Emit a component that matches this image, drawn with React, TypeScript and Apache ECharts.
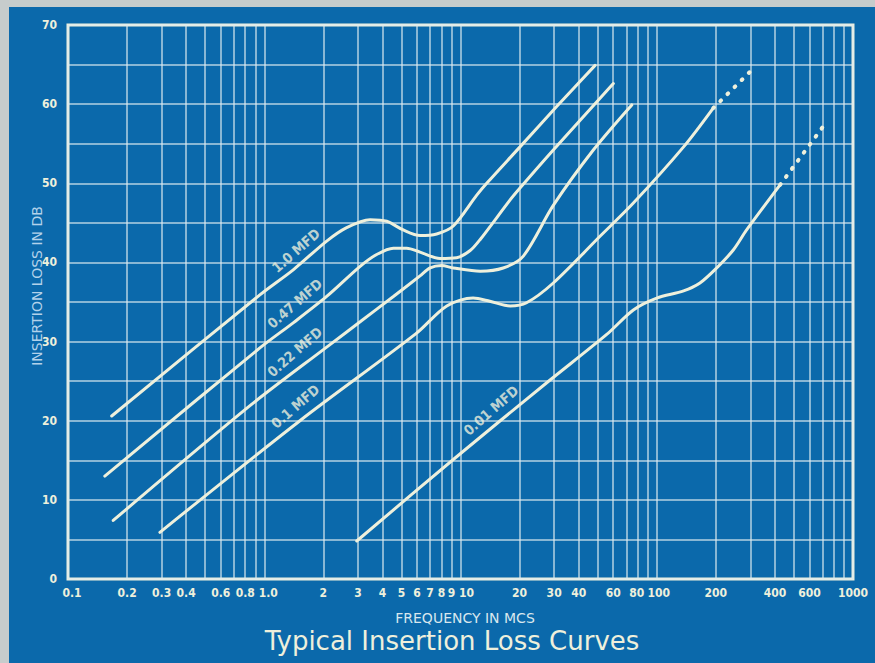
import React, { useEffect, useRef } from "react";
import * as echarts from "echarts";

// ---- data (frequency in MCS, insertion loss in dB) ----
const curve1_0: [number, number][] = [
  [0.167, 20.6], [0.95, 35.9], [1.41, 39.1], [2.08, 42.7], [2.63, 44.4], [3.46, 45.4],
  [4.21, 45.2], [5.11, 44.1], [6.22, 43.4], [7.56, 43.6], [9.19, 44.6], [12.1, 48.5],
  [13.6, 50.0], [20.1, 54.6], [30.9, 59.7], [48.5, 64.9],
];
const curve0_47: [number, number][] = [
  [0.154, 13.0], [0.95, 29.2], [1.41, 32.4], [2.08, 35.7], [3.08, 39.5], [3.74, 41.0],
  [4.55, 41.8], [5.32, 41.8], [6.22, 41.3], [7.86, 40.5], [9.56, 40.6], [11.2, 41.5],
  [12.6, 42.9], [17.9, 47.9], [20.1, 49.4], [29.7, 54.2], [60.1, 62.6],
];
const curve0_22: [number, number][] = [
  [0.17, 7.4], [0.846, 21.9], [2.08, 29.3], [3.08, 32.5], [4.55, 35.7], [6.22, 38.3],
  [7.0, 39.3], [8.0, 39.6], [9.19, 39.3], [12.6, 38.9], [16.5, 39.3], [20.9, 40.8],
  [29.7, 47.2], [47.5, 54.2], [74.6, 59.9],
];
const curve0_1: [number, number][] = [
  [0.294, 5.9], [1.52, 20.0], [5.93, 31.0], [8.51, 34.5], [11.6, 35.5], [14.1, 35.1],
  [17.9, 34.5], [21.7, 34.9], [29.7, 37.4], [51.4, 43.3], [76.0, 47.5], [137, 54.6],
  [194, 59.5],
];
const curve0_1Dotted: [number, number][] = [[194, 59.5], [299, 64.1]];
const curve0_01: [number, number][] = [
  [2.96, 4.8], [9.19, 15.1], [27.5, 24.8], [55.6, 30.9], [76.0, 34.0], [100, 35.5],
  [137, 36.4], [166, 37.4], [202, 39.3], [246, 41.6], [287, 44.1], [425, 49.8],
];
const curve0_01Dotted: [number, number][] = [[425, 49.8], [735, 57.8]];

const curveLabels: [number, number, string][] = [
  [1.45, 41.5, "1.0 MFD"],
  [1.43, 34.8, "0.47 MFD"],
  [1.43, 28.7, "0.22 MFD"],
  [1.44, 21.8, "0.1 MFD"],
  [14.3, 21.3, "0.01 MFD"],
];

const xLabelValues = [0.1, 0.2, 0.3, 0.4, 0.6, 0.8, 1, 2, 3, 4, 5, 6, 7, 8, 9, 10, 20, 30, 40, 60, 80, 100, 200, 400, 600, 1000];
const xLabelTexts = ["0.1", "0.2", "0.3", "0.4", "0.6", "0.8", "1.0", "2", "3", "4", "5", "6", "7", "8", "9", "10", "20", "30", "40", "60", "80", "100", "200", "400", "600", "1000"];
const xLabelShift = [4, 0, 0, 0, 0, 0, 4, 0, 0, 0, 0, 0, 0, 0, 0, 6, 0, 0, 0, 0, -1, 2, 0, 0, 0, 0];
const decades = [0.1, 1, 10, 100];
const multiples = [1, 2, 3, 4, 5, 6, 7, 8, 9];

const TITLE = "Typical Insertion Loss Curves";
const X_NAME = "FREQUENCY IN MCS";
const Y_NAME = "INSERTION LOSS IN DB";

const BG = "#0b69ab";
const CREAM = "#eef0dc";
const GRIDC = "rgba(222,236,240,0.8)";
const NARROW = "'Liberation Sans Narrow', 'DejaVu Sans Condensed', sans-serif";

export default function App() {
  const ref = useRef<HTMLDivElement>(null);
  useEffect(() => {
    if (!ref.current) return;
    const chart = echarts.init(ref.current, null, { renderer: "svg" });

    const gridValues: number[] = [];
    decades.forEach((d) => multiples.forEach((m) => gridValues.push(parseFloat((d * m).toPrecision(3)))));
    gridValues.push(1000);

    const markData = gridValues.map((v) => {
      const idx = xLabelValues.findIndex((x) => Math.abs(x - v) < 1e-9);
      if (idx < 0) return { xAxis: v, label: { show: false } };
      const s = xLabelShift[idx];
      return {
        xAxis: v,
        label: {
          show: true,
          position: "start",
          formatter: xLabelTexts[idx],
          color: CREAM,
          fontSize: 12,
          fontWeight: "bold",
          fontFamily: NARROW,
          distance: 8,
          padding: s >= 0 ? [0, 0, 0, 2 * s] : [0, -2 * s, 0, 0],
        },
      };
    });

    const curveSeries = (data: [number, number][]) => ({
      type: "line",
      data,
      smooth: 0.3,
      symbol: "none",
      lineStyle: { color: CREAM, width: 3, cap: "round" },
      z: 5,
    });
    const dottedSeries = (data: [number, number][]) => ({
      type: "line",
      data,
      symbol: "none",
      lineStyle: { color: CREAM, width: 4, type: [1, 9], cap: "round" },
      z: 5,
    });

    chart.setOption({
      animation: false,
      backgroundColor: BG,
      grid: {
        left: 68,
        right: 22,
        top: 25,
        bottom: 84,
        show: true,
        borderColor: CREAM,
        borderWidth: 3,
        backgroundColor: "transparent",
      },
      xAxis: {
        type: "log",
        logBase: 10,
        min: 0.1,
        max: 1000,
        axisLine: { show: false },
        axisTick: { show: false },
        axisLabel: { show: false },
        splitLine: { show: false },
      },
      yAxis: {
        type: "value",
        min: 0,
        max: 70,
        interval: 5,
        axisLine: { show: false },
        axisTick: { show: false },
        axisLabel: {
          formatter: (v: number) => (v % 10 === 0 ? String(v) : ""),
          color: CREAM,
          fontSize: 12,
          fontWeight: "bold",
          fontFamily: NARROW,
          margin: 11,
        },
        splitLine: { lineStyle: { color: GRIDC, width: 1.5 } },
      },
      series: [
        {
          type: "line",
          data: [[0.1, 0]],
          symbol: "none",
          lineStyle: { width: 0 },
          silent: true,
          markLine: {
            silent: true,
            symbol: ["none", "none"],
            animation: false,
            lineStyle: { color: GRIDC, width: 1.5, type: "solid" },
            data: markData,
          },
          z: 1,
        },
        curveSeries(curve1_0),
        curveSeries(curve0_47),
        curveSeries(curve0_22),
        curveSeries(curve0_1),
        dottedSeries(curve0_1Dotted),
        curveSeries(curve0_01),
        dottedSeries(curve0_01Dotted),
        {
          type: "scatter",
          data: curveLabels.map((l) => ({ value: [l[0], l[1]], name: l[2] })),
          symbolSize: 1,
          itemStyle: { color: "transparent" },
          silent: true,
          z: 6,
          label: {
            show: true,
            position: "inside",
            formatter: (p: any) => p.name,
            rotate: 41,
            color: CREAM,
            fontSize: 14,
            fontWeight: "bold",
            fontFamily: NARROW,
          },
        },
      ],
      graphic: [
        { type: "rect", left: 0, top: 0, shape: { width: 9, height: 663 }, style: { fill: "#c6cccc" }, z: 10 },
        { type: "rect", left: 0, top: 0, shape: { width: 875, height: 7 }, style: { fill: "#c6cccc" }, z: 10 },
        {
          type: "text",
          x: 37,
          y: 286,
          rotation: Math.PI / 2,
          style: {
            text: Y_NAME,
            fill: "#b3d2ea",
            font: "14px 'DejaVu Sans', sans-serif",
            textAlign: "center",
            textVerticalAlign: "middle",
          },
        },
        {
          type: "text",
          x: 465,
          y: 618,
          style: {
            text: X_NAME,
            fill: "#d8e7ee",
            font: "14px 'DejaVu Sans', sans-serif",
            textAlign: "center",
            textVerticalAlign: "middle",
          },
        },
        {
          type: "text",
          x: 452,
          y: 641,
          style: {
            text: TITLE,
            fill: CREAM,
            font: "26px 'DejaVu Sans', sans-serif",
            textAlign: "center",
            textVerticalAlign: "middle",
          },
        },
      ],
    });
    return () => chart.dispose();
  }, []);
  return <div ref={ref} style={{ position: "fixed", left: 0, top: 0, width: 875, height: 663 }} />;
}
